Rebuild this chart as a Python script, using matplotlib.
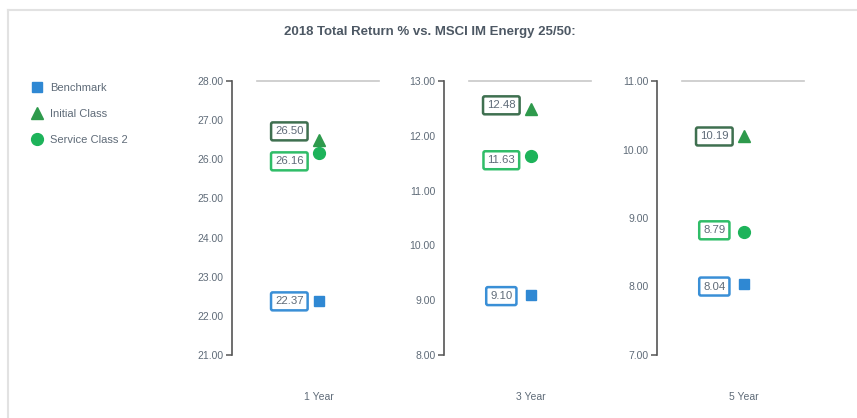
import matplotlib.pyplot as plt
from matplotlib.lines import Line2D
import numpy as np

plt.rcParams['font.family'] = ['Liberation Sans', 'DejaVu Sans']

# data
periods = ['1 Year', '3 Year', '5 Year']
series = ['Benchmark', 'Initial Class', 'Service Class 2']
benchmark = [22.37, 9.10, 8.04]
initial_class = [26.50, 12.48, 10.19]
service_class = [26.16, 11.63, 8.79]
y_limits = [(21, 28), (8, 13), (7, 11)]

# styling
marker_colors = ['#2f88d3', '#2e9a4c', '#1db35a']
box_colors = ['#3a8fd6', '#3f7050', '#30bd68']
markers = ['s', '^', 'o']
marker_sizes = [7.5, 8, 8.5]
text_color = '#5f6b78'
# label nudges (points) to keep boxes from overlapping
label_nudge = [[0, 6, -6], [-1, 3, -3], [-2, 0, 1.5]]

fig = plt.figure(figsize=(8.57, 4.18), dpi=100)

# outer frame (top and left only)
bg = fig.add_axes([0, 0, 1, 1])
bg.set_xlim(0, 857)
bg.set_ylim(418, 0)
bg.axis('off')
bg.plot([8, 857], [10, 10], color='#e2e2e2', lw=1.5)
bg.plot([8, 8], [10, 418], color='#e2e2e2', lw=1.5)

fig.text(0.502, 1 - 32 / 418, '2018 Total Return % vs. MSCI IM Energy 25/50:',
         ha='center', va='center', fontsize=9.5, fontweight='bold', color='#4d5864')

lefts = [232, 444, 657]
bottom, top = 355, 81
for i, period in enumerate(periods):
    ax = fig.add_axes([lefts[i] / 857, 1 - bottom / 418, 147 / 857, (bottom - top) / 418])
    lo, hi = y_limits[i]
    ax.set_ylim(lo, hi)
    ax.set_xlim(0, 1)
    for s in ['top', 'right', 'bottom']:
        ax.spines[s].set_visible(False)
    ax.spines['left'].set_color('#555555')
    ax.spines['left'].set_linewidth(1.2)
    ax.axhline(hi, xmin=0.17, xmax=1.0, color='#c8c8c8', lw=1.2, clip_on=False)

    yt = np.arange(lo, hi + 0.5, 1)
    ax.set_yticks(yt)
    ax.set_yticklabels([f'{v:.2f}' for v in yt])
    ax.tick_params(axis='y', length=4, width=1.1, color='#555555', pad=2,
                   labelsize=7.5, labelcolor=text_color)
    # only the end ticks show a tick mark
    for k, tk in enumerate(ax.yaxis.get_major_ticks()):
        if 0 < k < len(yt) - 1:
            tk.tick1line.set_visible(False)

    ax.set_xticks([0.59])
    ax.set_xticklabels([period])
    ax.tick_params(axis='x', length=0, pad=27, labelsize=7.5, labelcolor=text_color)

    vals = [benchmark[i], initial_class[i], service_class[i]]
    for j, v in enumerate(vals):
        ax.plot(0.59, v, marker=markers[j], color=marker_colors[j],
                markersize=marker_sizes[j], linestyle='none', clip_on=False)
        ax.annotate(f'{v:.2f}', xy=(0.39, v), xytext=(0, label_nudge[i][j]),
                    textcoords='offset points', ha='center', va='center',
                    fontsize=8.2, color=text_color,
                    bbox=dict(boxstyle='round,pad=0.35,rounding_size=0.15',
                              fc='white', ec=box_colors[j], lw=1.8))

handles = [Line2D([], [], marker=markers[k], color=marker_colors[k], linestyle='none',
                  markersize=marker_sizes[k]) for k in range(3)]
leg = fig.legend(handles, series, loc='upper left', bbox_to_anchor=(20 / 857, 1 - 73 / 418),
                 frameon=False, fontsize=8, labelspacing=1.45, handletextpad=0.6,
                 handlelength=1.2)
for t in leg.get_texts():
    t.set_color(text_color)

fig.savefig('out.png', dpi=100)
